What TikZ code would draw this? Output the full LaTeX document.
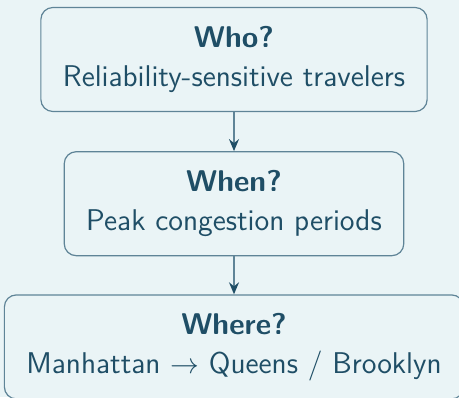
\documentclass[tikz,border=0pt]{standalone}
\usepackage{tikz}
\usepackage{xcolor}
\usetikzlibrary{arrows.meta,positioning}

\definecolor{inkblue}{HTML}{1F4E66}
\definecolor{edgeblue}{HTML}{5F8497}
\definecolor{paleback}{HTML}{EAF4F6}

\begin{document}
\begin{tikzpicture}[
          node distance=19.5pt,
          every node/.style={font=\sffamily\fontsize{15}{19.5}\selectfont, text=inkblue},
          box/.style={rectangle, draw=edgeblue, line width=0.6pt, fill=paleback, rounded corners=6pt, align=center, inner xsep=11pt, minimum height=52pt},
          arrow/.style={-{Stealth[length=6pt, width=5pt, inset=2pt, color=inkblue]}, edgeblue, line width=0.8pt}
        ]

          % background and page size
          \fill[paleback] (0,0) rectangle (229.5pt,-198.5pt);
          \useasboundingbox (0,0) rectangle (229.5pt,-198.5pt);

          % question boxes
          \node[box] (who) at (117pt,-29.75pt) {\textbf{Who?}\\Reliability-sensitive travelers};
          \node[box, below=19.5pt of who] (when) {\textbf{When?}\\Peak congestion periods};
          \node[box, below=19pt of when] (where) {\textbf{Where?}\\Manhattan $\rightarrow$ Queens / Brooklyn};

          \draw[arrow] (who) -- (when);
          \draw[arrow] (when) -- (where);

        \end{tikzpicture}
\end{document}
